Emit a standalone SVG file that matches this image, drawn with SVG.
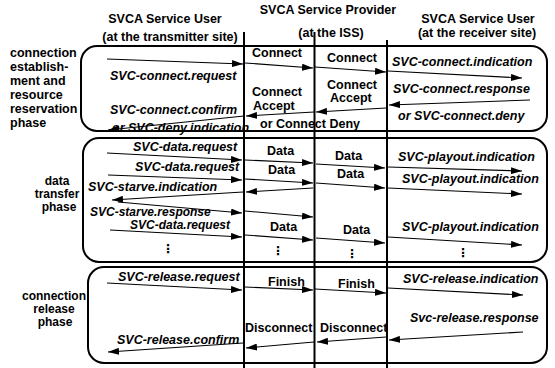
<svg xmlns="http://www.w3.org/2000/svg" width="555" height="368" viewBox="0 0 555 368">
<style>
text{font-family:"Liberation Sans",Arial,sans-serif;font-weight:bold;font-size:12.5px;fill:#000}
.it{font-style:italic}
.mid{text-anchor:middle}
.sm{font-size:12px}
.box{fill:none;stroke:#000;stroke-width:2}
.col{stroke:#000;stroke-width:2}
.msg{stroke:#000;stroke-width:1.1;fill:none;marker-end:url(#ah)}
.dots{font-family:"DejaVu Sans",sans-serif;font-size:12px}
</style>
<defs>
<marker id="ah" markerUnits="userSpaceOnUse" markerWidth="11" markerHeight="7" refX="11" refY="3.5" orient="auto">
<path d="M0,0 L11,3.5 L0,7 z" fill="#000"/>
</marker>
</defs>
<rect width="555" height="368" fill="#fff"/>
<g id="headers">
<text class="mid" x="165" y="23">SVCA Service User</text>
<text class="mid" x="170" y="41">(at the transmitter site)</text>
<text class="mid" x="328" y="14">SVCA Service Provider</text>
<text class="mid" x="331" y="37">(at the ISS)</text>
<text class="mid" x="478" y="23">SVCA Service User</text>
<text class="mid" x="477" y="37">(at the receiver site)</text>
</g>
<g id="phase-labels">
<text x="10" y="57">connection</text>
<text x="10" y="71">establish-</text>
<text x="10" y="85">ment and</text>
<text x="10" y="99">resource</text>
<text x="10" y="113">reservation</text>
<text x="10" y="127">phase</text>
<text class="mid sm" x="57" y="185">data</text>
<text class="mid sm" x="57" y="198">transfer</text>
<text class="mid sm" x="59" y="211">phase</text>
<text class="mid sm" x="54" y="300">connection</text>
<text class="mid sm" x="54" y="313">release</text>
<text class="mid sm" x="55" y="326">phase</text>
</g>
<g id="phase-boxes">
<rect id="box-connect" class="box" x="81" y="46" width="466" height="85" rx="16"/>
<rect id="box-data" class="box" x="83" y="138" width="464" height="124" rx="16"/>
<rect id="box-release" class="box" x="88" y="267" width="459" height="96" rx="16"/>
</g>
<g id="columns">
<line class="col" x1="244" y1="32" x2="244" y2="368"/>
<line class="col" x1="314.5" y1="32" x2="314.5" y2="368"/>
<line class="col" x1="387" y1="40" x2="387" y2="368"/>
</g>
<g id="connectors">
<line class="msg" x1="107" y1="59" x2="243" y2="64"/>
<line class="msg" x1="245" y1="63" x2="313" y2="68"/>
<line class="msg" x1="315" y1="67" x2="386" y2="72"/>
<line class="msg" x1="388" y1="71" x2="522" y2="78"/>
<line class="msg" x1="530" y1="100" x2="389" y2="105"/>
<line class="msg" x1="386" y1="108" x2="316" y2="112"/>
<line class="msg" x1="314" y1="112" x2="246" y2="116"/>
<line class="msg" x1="244" y1="116" x2="108" y2="130"/>
<line class="msg" x1="107" y1="153" x2="242" y2="160"/>
<line class="msg" x1="245" y1="160" x2="313" y2="163"/>
<line class="msg" x1="316" y1="164" x2="385" y2="168"/>
<line class="msg" x1="388" y1="167" x2="522" y2="171"/>
<line class="msg" x1="108" y1="175" x2="242" y2="180"/>
<line class="msg" x1="245" y1="179" x2="313" y2="183"/>
<line class="msg" x1="316" y1="183" x2="385" y2="188"/>
<line class="msg" x1="388" y1="188" x2="522" y2="194"/>
<line class="msg" x1="313" y1="188" x2="246" y2="192"/>
<line class="msg" x1="243" y1="192" x2="112" y2="200"/>
<line class="msg" x1="118" y1="202" x2="242" y2="213"/>
<line class="msg" x1="245" y1="211" x2="313" y2="217"/>
<line class="msg" x1="110" y1="230" x2="242" y2="237"/>
<line class="msg" x1="245" y1="235" x2="313" y2="240"/>
<line class="msg" x1="316" y1="238" x2="385" y2="243"/>
<line class="msg" x1="388" y1="237" x2="522" y2="245"/>
<line class="msg" x1="107" y1="283" x2="242" y2="290"/>
<line class="msg" x1="245" y1="287" x2="313" y2="290"/>
<line class="msg" x1="315" y1="289" x2="386" y2="293"/>
<line class="msg" x1="388" y1="288" x2="523" y2="295"/>
<line class="msg" x1="523" y1="332" x2="389" y2="340"/>
<line class="msg" x1="386" y1="337" x2="317" y2="342"/>
<line class="msg" x1="314" y1="342" x2="246" y2="348"/>
<line class="msg" x1="243" y1="343" x2="108" y2="352"/>
</g>
<g id="labels-connect">
<text class="it" x="110" y="80">SVC-connect.request</text>
<text x="252" y="57">Connect</text>
<text x="327" y="62">Connect</text>
<text class="it" x="392" y="66">SVC-connect.indication</text>
<text class="it" x="393" y="93">SVC-connect.response</text>
<text class="it" x="398" y="120">or SVC-connect.deny</text>
<text x="327" y="89">Connect</text>
<text x="330" y="102">Accept</text>
<text x="252" y="96">Connect</text>
<text x="253" y="110">Accept</text>
<text x="260" y="128">or Connect Deny</text>
<text class="it" x="110" y="114">SVC-connect.confirm</text>
<text class="it" x="112" y="132">or SVC-deny.indication</text>
</g>
<g id="labels-data">
<text class="it" x="133" y="151">SVC-data.request</text>
<text x="267" y="155">Data</text>
<text x="335" y="160">Data</text>
<text class="it" x="398" y="161">SVC-playout.indication</text>
<text class="it" x="135" y="171">SVC-data.request</text>
<text x="268" y="174">Data</text>
<text x="337" y="178">Data</text>
<text class="it" x="402" y="183">SVC-playout.indication</text>
<text class="it" x="88" y="191">SVC-starve.indication</text>
<text class="it sm" x="90" y="216">SVC-starve.response</text>
<text class="it sm" x="130" y="229">SVC-data.request</text>
<text x="270" y="231">Data</text>
<text x="343" y="234">Data</text>
<text class="it" x="402" y="231">SVC-playout.indication</text>
<text class="dots mid" x="168" y="253">⋮</text>
<text class="dots mid" x="278" y="255">⋮</text>
<text class="dots mid" x="352" y="258">⋮</text>
<text class="dots mid" x="463" y="257">⋮</text>
</g>
<g id="labels-release">
<text class="it" x="118" y="281">SVC-release.request</text>
<text x="268" y="286">Finish</text>
<text x="338" y="288">Finish</text>
<text class="it" x="403" y="283">SVC-release.indication</text>
<text class="it" x="410" y="322">Svc-release.response</text>
<text x="320" y="332">Disconnect</text>
<text x="245" y="332">Disconnect</text>
<text class="it" x="117" y="344">SVC-release.confirm</text>
</g>
</svg>
